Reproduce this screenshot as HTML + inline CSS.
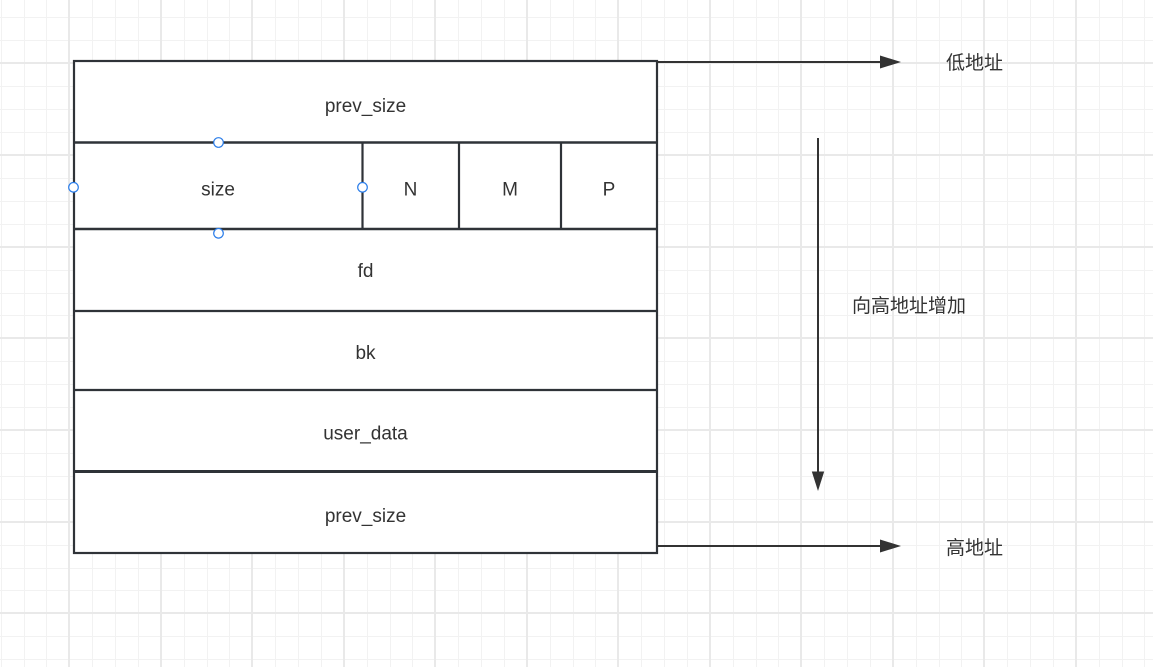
<!DOCTYPE html>
<html>
<head>
<meta charset="utf-8">
<style>
  html,body{margin:0;padding:0;background:#fff;}
  body{width:1153px;height:667px;overflow:hidden;}
  svg{display:block;}
  .t{font-family:"Liberation Sans","Noto Sans CJK SC",sans-serif;font-size:19px;fill:#333;}
  .c{font-family:"Liberation Sans","Noto Sans CJK SC",sans-serif;font-size:19px;fill:#333;}
</style>
</head>
<body>
<svg width="1153" height="667" viewBox="0 0 1153 667" xmlns="http://www.w3.org/2000/svg">
  <rect x="0" y="0" width="1153" height="667" fill="#fff"/>
  <!-- minor grid -->
  <path shape-rendering="crispEdges" stroke="#f2f2f2" stroke-width="1" fill="none" d="
    M1.5 0V667 M24.5 0V667 M46.5 0V667 M92.5 0V667 M115.5 0V667 M138.5 0V667 M184.5 0V667 M207.5 0V667 M229.5 0V667
    M275.5 0V667 M298.5 0V667 M321.5 0V667 M367.5 0V667 M390.5 0V667 M412.5 0V667 M458.5 0V667 M481.5 0V667 M504.5 0V667
    M550.5 0V667 M573.5 0V667 M595.5 0V667 M641.5 0V667 M664.5 0V667 M687.5 0V667 M733.5 0V667 M756.5 0V667 M778.5 0V667
    M824.5 0V667 M847.5 0V667 M870.5 0V667 M916.5 0V667 M939.5 0V667 M961.5 0V667 M1007.5 0V667 M1030.5 0V667 M1053.5 0V667
    M1099.5 0V667 M1122.5 0V667 M1144.5 0V667
    M0 17.5H1153 M0 40.5H1153 M0 86.5H1153 M0 109.5H1153 M0 132.5H1153 M0 178.5H1153 M0 201.5H1153 M0 224.5H1153
    M0 270.5H1153 M0 293.5H1153 M0 315.5H1153 M0 361.5H1153 M0 384.5H1153 M0 407.5H1153 M0 453.5H1153 M0 476.5H1153
    M0 499.5H1153 M0 545.5H1153 M0 568.5H1153 M0 590.5H1153 M0 636.5H1153 M0 659.5H1153"/>
  <!-- major grid -->
  <path shape-rendering="crispEdges" stroke="#e9e9e9" stroke-width="2" fill="none" d="
    M69 0V667 M161 0V667 M252 0V667 M344 0V667 M435 0V667 M527 0V667 M618 0V667 M710 0V667 M801 0V667 M893 0V667 M984 0V667 M1076 0V667
    M0 63H1153 M0 155H1153 M0 247H1153 M0 338H1153 M0 430H1153 M0 522H1153 M0 613H1153"/>

  <!-- main box -->
  <rect x="74" y="61" width="583" height="492" fill="#fff" stroke="#2f3338" stroke-width="2.2"/>
  <g stroke="#2f3338" stroke-width="2.2" fill="none">
    <line x1="74" y1="142.5" x2="657" y2="142.5" stroke-width="2.6"/>
    <line x1="74" y1="229" x2="657" y2="229" stroke-width="2.6"/>
    <line x1="74" y1="311" x2="657" y2="311"/>
    <line x1="74" y1="390" x2="657" y2="390"/>
    <line x1="74" y1="471.5" x2="657" y2="471.5" stroke-width="3"/>
    <line x1="362.5" y1="142" x2="362.5" y2="229"/>
    <line x1="459" y1="142" x2="459" y2="229"/>
    <line x1="561" y1="142" x2="561" y2="229"/>
  </g>

  <!-- labels in box -->
  <g class="t" text-anchor="middle">
    <text x="365.5" y="112">prev_size</text>
    <text x="218" y="195.5">size</text>
    <text x="410.5" y="195.5">N</text>
    <text x="510" y="195.5">M</text>
    <text x="609" y="195.5">P</text>
    <text x="365.5" y="277">fd</text>
    <text x="365.5" y="359">bk</text>
    <text x="365.5" y="439.5">user_data</text>
    <text x="365.5" y="522">prev_size</text>
  </g>

  <!-- selection handles -->
  <g fill="#fff" stroke="#2b7de9" stroke-width="1.2">
    <circle cx="218.5" cy="142.5" r="4.8"/>
    <circle cx="73.5" cy="187.3" r="4.8"/>
    <circle cx="362.5" cy="187.3" r="4.8"/>
    <circle cx="218.5" cy="233.3" r="4.8"/>
  </g>

  <!-- arrows -->
  <g stroke="#333" stroke-width="2" fill="none">
    <line x1="657" y1="62" x2="882" y2="62"/>
    <line x1="657" y1="546" x2="882" y2="546"/>
    <line x1="818" y1="138" x2="818" y2="473"/>
  </g>
  <g fill="#333">
    <polygon points="880,55.5 901,62 880,68.5"/>
    <polygon points="880,539.5 901,546 880,552.5"/>
    <polygon points="811.8,471.5 818,491 824.2,471.5"/>
  </g>

  <!-- side labels -->
  <text class="c" x="946" y="69">低地址</text>
  <text class="c" x="946" y="554">高地址</text>
  <text class="c" x="852" y="312">向高地址增加</text>
</svg>
</body>
</html>
